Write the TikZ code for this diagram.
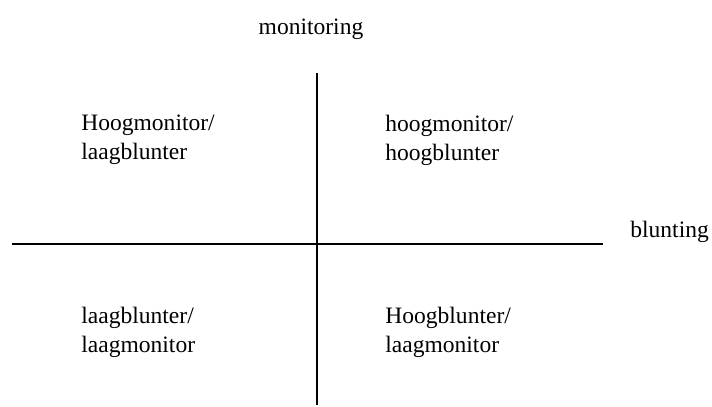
\documentclass[tikz,border=0pt]{standalone}
\usepackage{fontspec}
\setmainfont{Liberation Serif}
\usepackage{tikz}
\usetikzlibrary{positioning}

\begin{document}
\begin{tikzpicture}[
  x=0.51pt, y=-0.51pt,
  every node/.style={font=\fontsize{12}{14.5}\selectfont},
  quad/.style={anchor=north west, inner sep=0pt, align=left},
  axislabel/.style={anchor=base, inner sep=0pt},
  axisline/.style={line width=0.9pt, black},
]
\useasboundingbox (0,0) rectangle (712,407);

% axes
\coordinate (v-top) at (317,73);
\coordinate (v-bot) at (317,405);
\coordinate (h-left) at (12,244);
\coordinate (h-right) at (603,244);
\draw[axisline] (v-top) -- (v-bot);
\draw[axisline] (h-left) -- (h-right);

\node[axislabel] (mon) at (311,35) {monitoring};
\node[axislabel, anchor=base west] (blu) at (630,238) {blunting};

% quadrants
\node[quad] (q-tl) at (81,115) {Hoogmonitor/\\laagblunter};
\node[quad] (q-tr) at (385,115) {hoogmonitor/\\hoogblunter};
\node[quad] (q-bl) at (81,307) {laagblunter/\\laagmonitor};
\node[quad] (q-br) at (385,307) {Hoogblunter/\\laagmonitor};
\end{tikzpicture}
\end{document}
